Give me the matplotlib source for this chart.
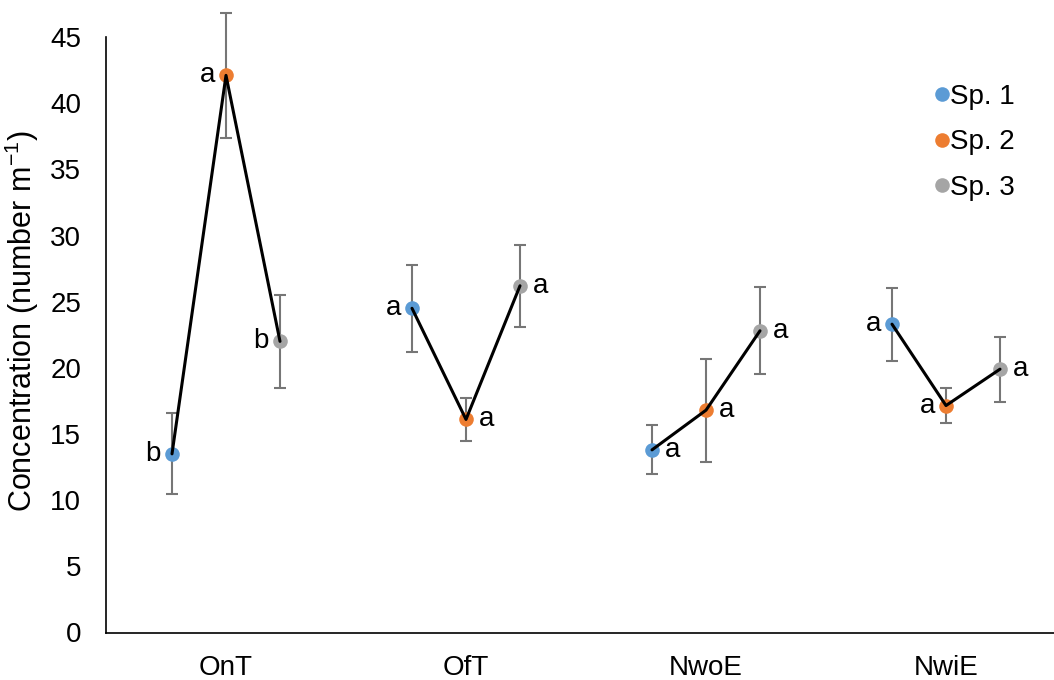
import matplotlib
matplotlib.use("Agg")
import matplotlib.pyplot as plt
import numpy as np

plt.rcParams['font.family'] = ['Liberation Sans', 'DejaVu Sans']

categories = ["OnT", "OfT", "NwoE", "NwiE"]
species = ["Sp. 1", "Sp. 2", "Sp. 3"]
colors = ["#5B9BD5", "#ED7D31", "#A5A5A5"]

# means per category: [Sp1, Sp2, Sp3]
means = {
    "OnT": [13.5, 42.1, 22.0],
    "OfT": [24.5, 16.1, 26.2],
    "NwoE": [13.8, 16.8, 22.8],
    "NwiE": [23.3, 17.15, 19.9],
}
errors = {
    "OnT": [3.05, 4.7, 3.5],
    "OfT": [3.3, 1.6, 3.1],
    "NwoE": [1.85, 3.9, 3.3],
    "NwiE": [2.75, 1.35, 2.45],
}
letters = {
    "OnT": ["b", "a", "b"],
    "OfT": ["a", "a", "a"],
    "NwoE": ["a", "a", "a"],
    "NwiE": ["a", "a", "a"],
}
letter_side = {
    "OnT": ["L", "L", "L"],
    "OfT": ["L", "R", "R"],
    "NwoE": ["R", "R", "R"],
    "NwiE": ["L", "L", "R"],
}

offsets = [-0.225, 0.0, 0.225]
FS = 20

fig = plt.figure(figsize=(10.54, 6.80), dpi=100)
ax = fig.add_axes([106/1054, (680-632.5)/680, (1066-106)/1054, (632.5-37)/680])

for ci, cat in enumerate(categories):
    xs = [ci + o for o in offsets]
    ys = means[cat]
    ax.plot(xs, ys, color="black", lw=2.2, zorder=4, solid_capstyle="round")
    for si in range(3):
        eb = ax.errorbar(xs[si], ys[si], yerr=errors[cat][si], fmt="none",
                         ecolor="#767676", elinewidth=1.5, capsize=4.5, capthick=1.5, zorder=2)
        for art in eb.lines[1] + eb.lines[2]:
            art.set_clip_on(False)
        ax.plot(xs[si], ys[si], "o", color=colors[si], markersize=10.5,
                markeredgewidth=0, zorder=3, label=species[si] if ci == 0 else None)
        side = letter_side[cat][si]
        dx = -8 if side == "L" else 9.5
        ax.annotate(letters[cat][si], (xs[si], ys[si]), xytext=(dx, 0),
                    textcoords="offset points", ha="right" if side == "L" else "left",
                    va="center", fontsize=FS, zorder=5)

ax.set_xlim(-0.5, 3.5)
ax.set_ylim(0, 45)
ax.set_yticks(np.arange(0, 46, 5))
ax.set_xticks(range(len(categories)))
ax.set_xticklabels(categories)
ax.tick_params(axis="both", length=0, labelsize=FS)
ax.tick_params(axis="y", pad=18)
ax.tick_params(axis="x", pad=16)
for s in ["top", "right"]:
    ax.spines[s].set_visible(False)
for s in ["left", "bottom"]:
    ax.spines[s].set_linewidth(1.2)
    ax.spines[s].set_color("black")

fig.text(22/1054, (680-321.5)/680, r"Concentration (number m$^{\mathregular{-1}}$)",
         fontsize=22, rotation=90, ha="center", va="center")

leg = ax.legend(loc="upper left", bbox_to_anchor=(0.83, 0.963), frameon=False,
                fontsize=FS, handletextpad=-0.2, labelspacing=0.7, markerscale=1.0,
                handlelength=1.0)

fig.savefig("out.png", dpi=100)
